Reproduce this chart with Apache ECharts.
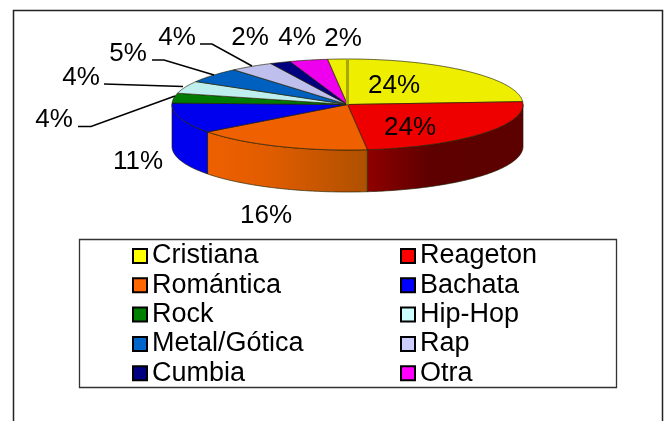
<!DOCTYPE html>
<html><head><meta charset="utf-8">
<style>html,body{margin:0;padding:0;background:#fff}#c{width:670px;height:421px}</style>
<script src="https://cdn.jsdelivr.net/npm/echarts@6/dist/echarts.min.js"></script>
</head><body><div id="c"></div>
<script>
// Data
const categories = ['Cristiana','Reageton','Romántica','Bachata','Rock','Hip-Hop','Metal/Gótica','Rap','Cumbia','Otra','Sin nombre'];
const shares = [24,24.2,16.49,10.81,3.5,4.4,5.4,4,1.9,3.5,1.8];
const legendLeft = ['Cristiana','Romántica','Rock','Metal/Gótica','Cumbia'];
const legendRight = ['Reageton','Bachata','Hip-Hop','Rap','Otra'];

// Styles and layout
const topColors = ['#eeee00','#ee0000','#ee6000','#0000ee','#007b00','#bfeeee','#0060c0','#bfbfee','#000080','#ee00ee','#eeee00'];
const swatchColors = {'Cristiana':'#ffff00','Reageton':'#ff0000','Romántica':'#ff6600','Bachata':'#0000ff','Rock':'#008000','Hip-Hop':'#ccffff','Metal/Gótica':'#0066cc','Rap':'#ccccff','Cumbia':'#000080','Otra':'#ff00ff'};
const sideFills = {
  1:{type:'linear',x:0,y:0,x2:1,y2:0,colorStops:[{offset:0,color:'#900000'},{offset:0.4,color:'#5e0000'},{offset:1,color:'#5c0000'}]},
  2:{type:'linear',x:0,y:0,x2:1,y2:0,colorStops:[{offset:0,color:'#ee6000'},{offset:0.4,color:'#e05c00'},{offset:1,color:'#ae5000'}]},
  3:'#0000ee'
};
const labelAt = [[394,86],[410,128],[266,216],[138,162],[54,120],[81,78],[128,54],[177,38],[250,38],[297,38],[343,39]];
const leaders = {
  4:[[78,126.5],[91,126.5],[175,96]],
  5:[[104,84],[183,86.5]],
  6:[[152,60],[164,60],[214,75]],
  7:[[200,44],[212,44],[252,66]]
};
const cx=347.5, cy=104.5, rx=175.5, ry=45.5, depth=42;
const total = shares.reduce((a,b)=>a+b,0);
const startOf = i => shares.slice(0,i).reduce((a,b)=>a+b,0)/total*Math.PI*2;
const rim = (t,dy=0) => [cx+rx*Math.sin(t), cy-ry*Math.cos(t)+dy];
const arc = (a,b,dy=0) => { const n=Math.max(2,Math.ceil((b-a)*60)), p=[]; for(let k=0;k<=n;k++) p.push(rim(a+(b-a)*k/n,dy)); return p; };
const edge = 'rgba(30,30,0,0.65)';

function renderSlice(i){
  return function(params, api){
    const v = api.value(0);
    const a = startOf(i), b = a + v/total*Math.PI*2;
    const kids = [];
    // outer wall: only the front half (right through bottom to left) is seen
    const fa = Math.max(a, Math.PI/2), fb = Math.min(b, Math.PI*1.5);
    if (fb > fa) {
      kids.push({type:'polygon', shape:{points:arc(fa,fb).concat(arc(fa,fb,depth).reverse())},
        style:{fill:sideFills[i]||topColors[i], stroke:edge, lineWidth:1}});
    }
    // top face
    kids.push({type:'polygon', shape:{points:[[cx,cy]].concat(arc(a,b))},
      style:{fill:topColors[i], stroke:edge, lineWidth:1}});
    if (i===0) kids.push({type:'line', shape:{x1:cx,y1:cy,x2:cx,y2:cy-ry}, style:{stroke:'#a8a800',lineWidth:3}, z2:5});
    if (leaders[i]) kids.push({type:'polyline', shape:{points:leaders[i]}, style:{fill:null,stroke:'#000',lineWidth:1.5}, z2:6});
    kids.push({type:'text', x:labelAt[i][0], y:labelAt[i][1], z2:7,
      style:{text:Math.round(v)+'%', fill:'#000', font:'26px "Liberation Sans", Arial, sans-serif', align:'center', verticalAlign:'middle'}});
    return {type:'group', children:kids};
  };
}

const legendOf = (names,left) => ({
  orient:'vertical', left, top:242.5, padding:0, itemWidth:14, itemHeight:14, itemGap:2.3,
  selectedMode:false, icon:'rect',
  textStyle:{color:'#000', fontFamily:'"Liberation Sans", Arial, sans-serif', fontSize:27, lineHeight:22},
  data:names.map(n=>({name:n, icon:'rect', itemStyle:{color:swatchColors[n], borderColor:'#000', borderWidth:2}}))
});

const chart = echarts.init(document.getElementById('c'), null, {renderer:'canvas'});
chart.setOption({
  animation:false,
  backgroundColor:'#fff',
  legend:[legendOf(legendLeft,132), legendOf(legendRight,400)],
  graphic:[
    {type:'rect', silent:true, z:-1, shape:{x:13.5,y:10.5,width:649,height:430}, style:{fill:'#fff',stroke:'#222',lineWidth:1.5}},
    {type:'rect', silent:true, z:-1, shape:{x:79.5,y:239.5,width:537,height:148}, style:{fill:'#fff',stroke:'#333',lineWidth:1.3}}
  ],
  series:categories.map((name,i)=>({
    type:'custom', name, coordinateSystem:'none', silent:true,
    data:[[shares[i]]], renderItem:renderSlice(i)
  }))
});
</script></body></html>
